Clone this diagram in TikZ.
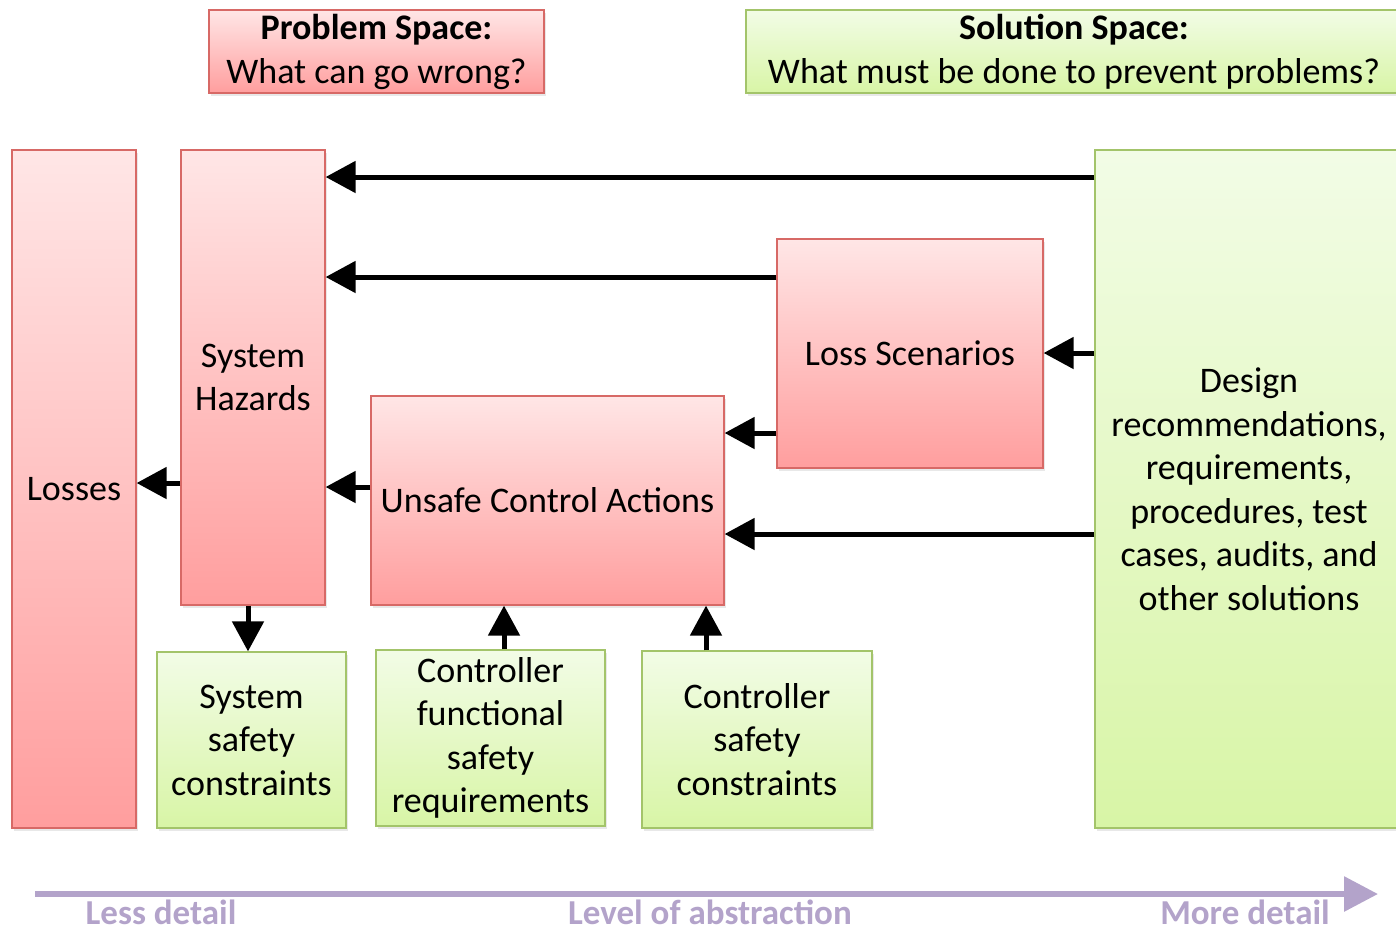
\documentclass[tikz,border=0pt]{standalone}
\usepackage{fontspec}
\setmainfont{Carlito}
\usetikzlibrary{arrows.meta,shadows}

\definecolor{redtop}{HTML}{FFE6E6}
\definecolor{redbot}{HTML}{FF9E9E}
\definecolor{redline}{HTML}{D76966}
\definecolor{greentop}{HTML}{F2FCE6}
\definecolor{greenbot}{HTML}{D8F5A6}
\definecolor{greenline}{HTML}{A3C46A}
\definecolor{axiscol}{HTML}{B3A3CA}

\tikzset{
  boxtext/.style={font=\fontsize{36}{43.5}\selectfont, align=center, inner sep=0pt},
  redbox/.style={boxtext, rectangle, draw=redline, line width=1.2pt,
    top color=redtop, bottom color=redbot,
    drop shadow={opacity=0.18, shadow xshift=1.5pt, shadow yshift=-2.5pt}},
  greenbox/.style={boxtext, rectangle, draw=greenline, line width=1.2pt,
    top color=greentop, bottom color=greenbot,
    drop shadow={opacity=0.18, shadow xshift=1.5pt, shadow yshift=-2.5pt}},
  conn/.style={line width=5pt, -{Triangle[length=30pt,width=31pt]}},
  axislabel/.style={font=\fontsize{35}{42}\selectfont\bfseries, text=axiscol, anchor=base, inner sep=0pt}
}

\begin{document}
\begin{tikzpicture}[x=1pt,y=-1pt]
\useasboundingbox (0,0) rectangle (1396,930);

% headers
\node[redbox, minimum width=335pt, minimum height=83pt] (probtitle) at (376.5,51.5)
  {\textbf{Problem Space:}\\[0.5pt]What can go wrong?};
\node[greenbox, minimum width=656pt, minimum height=83pt] (soltitle) at (1074,51.5)
  {\textbf{Solution Space:}\\[0.5pt]What must be done to prevent problems?};

% problem space boxes
\node[redbox, minimum width=124pt, minimum height=678pt] (losses) at (74,489) {Losses};
\node[redbox, minimum width=144pt, minimum height=455pt] (sh) at (253,377.5) {System\\Hazards};
\node[redbox, minimum width=266pt, minimum height=229pt] (ls) at (910,353.5) {Loss Scenarios};
\node[redbox, minimum width=353pt, minimum height=209pt] (uca) at (547.5,500.5) {Unsafe Control Actions};

% solution space boxes
\node[greenbox, minimum width=308pt, minimum height=678pt] (design) at (1249,489)
  {Design\\recommendations,\\requirements,\\procedures, test\\cases, audits, and\\other solutions};
\node[greenbox, minimum width=189pt, minimum height=176pt] (ssc) at (251.5,740)
  {System\\safety\\constraints};
\node[greenbox, minimum width=229pt, minimum height=176pt] (cfsr) at (490.5,738)
  {Controller\\functional\\safety\\requirements};
\node[greenbox, minimum width=230pt, minimum height=177pt] (csc) at (757,739.5)
  {Controller\\safety\\constraints};

% connectors
\draw[conn] (design.west |- 0,177) -- (sh.east |- 0,177);
\draw[conn] (ls.west |- 0,277) -- (sh.east |- 0,277);
\draw[conn] (design.west |- 0,353) -- (ls.east |- 0,353);
\draw[conn] (ls.west |- 0,433) -- (uca.east |- 0,433);
\draw[conn] (design.west |- 0,534) -- (uca.east |- 0,534);
\draw[conn] (uca.west |- 0,487) -- (sh.east |- 0,487);
\draw[conn] (sh.west |- 0,483) -- (losses.east |- 0,483);
\draw[conn] (sh.south -| 248,0) -- (ssc.north -| 248,0);
\draw[conn] (cfsr.north -| 504,0) -- (uca.south -| 504,0);
\draw[conn] (csc.north -| 706,0) -- (uca.south -| 706,0);

% abstraction axis
\coordinate (axisL) at (35,894);
\coordinate (axisR) at (1378,894);
\draw[axiscol, line width=6pt, -{Triangle[length=34pt,width=34pt]}] (axisL) -- (axisR);
\node[axislabel] (lessd) at (161,924) {Less detail};
\node[axislabel] (levelab) at (710,924) {Level of abstraction};
\node[axislabel] (mored) at (1245,924) {More detail};
\end{tikzpicture}
\end{document}
